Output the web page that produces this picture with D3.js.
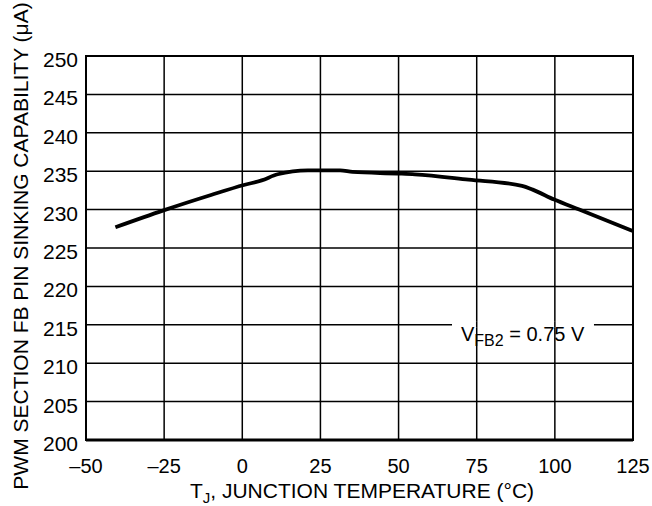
<!DOCTYPE html>
<html>
<head>
<meta charset="utf-8">
<script src="https://cdn.jsdelivr.net/npm/d3@7"></script>
<style>
body { margin: 0; background: #fff; }
text { font-family: "Liberation Sans", Arial, sans-serif; fill: #000; }
</style>
</head>
<body>
<div id="chart"></div>
<script>
//sinking capability vs junction temperature
var temps = [-40.6, -25.2, -10, 0.5, 6.2, 11.3, 21, 31.3, 35.3, 49.5, 55.2, 72.4, 89.5, 92.9, 99.8, 107.8, 125];
var current = [227.7, 229.9, 231.9, 233.2, 233.8, 234.6, 235.1, 235.1, 234.9, 234.7, 234.6, 233.9, 233.1, 232.6, 231.3, 230.0, 227.2];
var xTicks = [-50, -25, 0, 25, 50, 75, 100, 125];
var yTicks = [200, 205, 210, 215, 220, 225, 230, 235, 240, 245, 250];

var W = 652, H = 506;
var plot = {l: 86, r: 633, t: 56, b: 440};

var svg = d3.select("#chart").append("svg")
	.attr("width", W).attr("height", H);

var x = d3.scaleLinear().domain([-50, 125]).range([plot.l, plot.r]);
var y = d3.scaleLinear().domain([200, 250]).range([plot.b, plot.t]);

//grid
svg.append("g").selectAll("line").data(xTicks).enter().append("line")
	.attr("x1", d => x(d)).attr("x2", d => x(d))
	.attr("y1", plot.t).attr("y2", plot.b)
	.attr("stroke", "#000").attr("stroke-width", 1.5);
svg.append("g").selectAll("line").data(yTicks).enter().append("line")
	.attr("x1", plot.l).attr("x2", plot.r)
	.attr("y1", d => y(d)).attr("y2", d => y(d))
	.attr("stroke", "#000").attr("stroke-width", 1.5);

//frame
svg.append("rect")
	.attr("x", plot.l).attr("y", plot.t)
	.attr("width", plot.r - plot.l).attr("height", plot.b - plot.t)
	.attr("fill", "none").attr("stroke", "#000").attr("stroke-width", 2);
svg.append("line")
	.attr("x1", plot.l).attr("x2", plot.r)
	.attr("y1", plot.b).attr("y2", plot.b)
	.attr("stroke", "#000").attr("stroke-width", 3);

//tick labels
svg.append("g").selectAll("text").data(xTicks).enter().append("text")
	.attr("x", d => x(d)).attr("y", 473)
	.attr("text-anchor", "middle").attr("font-size", 20)
	.text(d => d < 0 ? "\u2013" + Math.abs(d) : d);
svg.append("g").selectAll("text").data(yTicks).enter().append("text")
	.attr("x", 78).attr("y", d => y(d) + 11)
	.attr("text-anchor", "end").attr("font-size", 21)
	.text(d => d);

//axis titles
var xt = svg.append("text").attr("x", 362).attr("y", 498)
	.attr("text-anchor", "middle").attr("font-size", 21);
xt.append("tspan").text("T");
xt.append("tspan").attr("font-size", 15).attr("dy", 5).text("J");
xt.append("tspan").attr("dy", -5).text(", JUNCTION TEMPERATURE (\u00B0C)");

svg.append("text")
	.attr("transform", "translate(28," + 246 + ") rotate(-90)")
	.attr("text-anchor", "middle").attr("font-size", 21)
	.text("PWM SECTION FB PIN SINKING CAPABILITY (\u03BCA)");

//curve
var line = d3.line().x(d => x(d[0])).y(d => y(d[1])).curve(d3.curveMonotoneX);
svg.append("path")
	.datum(temps.map((t, i) => [t, current[i]]))
	.attr("d", line)
	.attr("fill", "none").attr("stroke", "#000").attr("stroke-width", 3.8);

//annotation
var note = svg.append("g");
var lbl = note.append("text").attr("x", 461).attr("y", 341).attr("font-size", 20);
lbl.append("tspan").text("V");
lbl.append("tspan").attr("font-size", 16).attr("dy", 5).text("FB2");
lbl.append("tspan").attr("dy", -5).text(" = 0.75 V");
var bb = lbl.node().getBBox();
note.insert("rect", "text")
	.attr("x", bb.x - 9).attr("y", y(215) - 3)
	.attr("width", bb.width + 18).attr("height", 6)
	.attr("fill", "#fff");
//gridlines stay broken only on the 215 row; vertical ones run through the text
note.selectAll("line.cut").data([75, 100]).enter().append("line")
	.attr("x1", d => x(d)).attr("x2", d => x(d))
	.attr("y1", y(215) - 3).attr("y2", y(215) + 3)
	.attr("stroke", "#000").attr("stroke-width", 1.5);
</script>
</body>
</html>
